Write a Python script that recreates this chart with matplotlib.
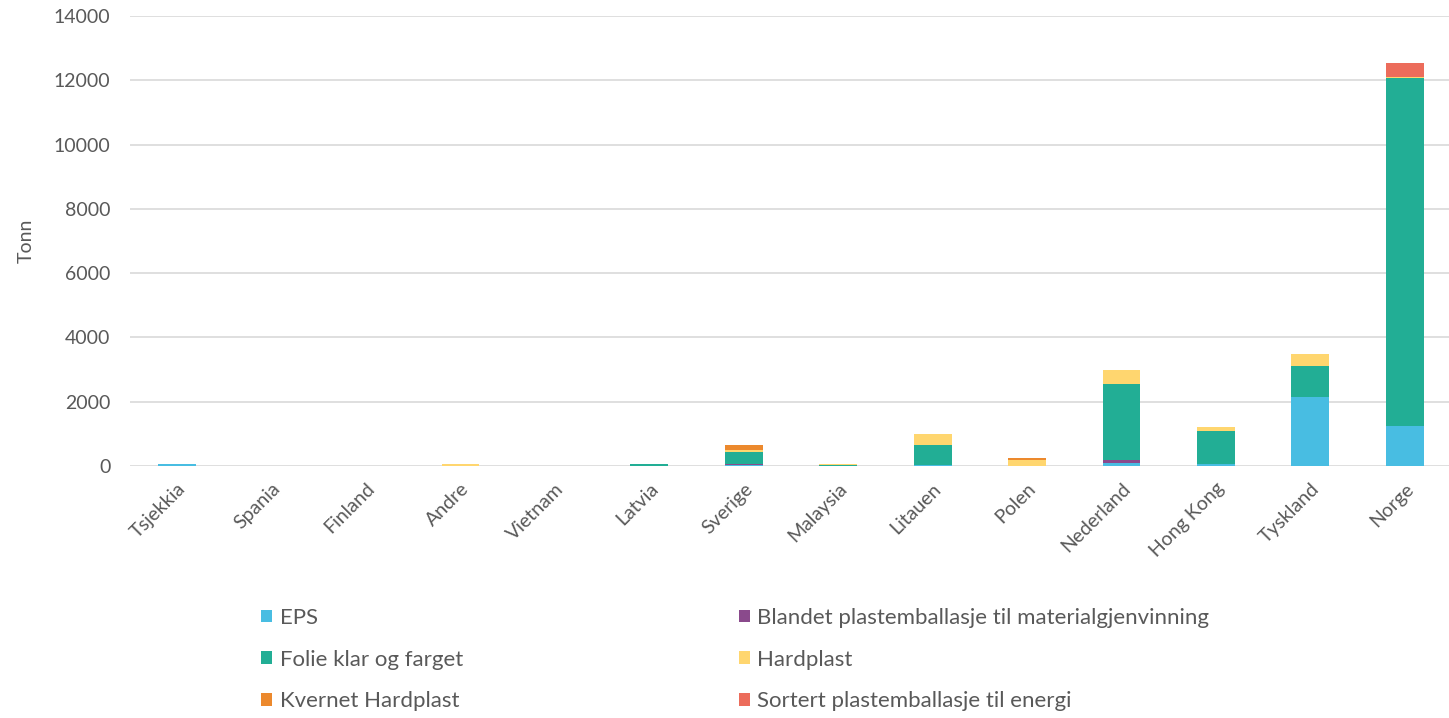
import matplotlib.pyplot as plt
import numpy as np

# ---------------------------------------------------------------------------
# Data (tonn per land og fraksjon)
# ---------------------------------------------------------------------------
countries = ["Tsjekkia", "Spania", "Finland", "Andre", "Vietnam", "Latvia",
             "Sverige", "Malaysia", "Litauen", "Polen", "Nederland",
             "Hong Kong", "Tyskland", "Norge"]

eps = [60, 0, 0, 0, 0, 0, 20, 0, 20, 0, 80, 50, 2150, 1230]
blandet = [0, 0, 0, 0, 0, 0, 50, 0, 0, 0, 110, 0, 0, 0]
folie = [0, 0, 0, 0, 0, 65, 370, 30, 630, 0, 2370, 1050, 970, 10850]
hardplast = [0, 0, 0, 60, 0, 0, 60, 30, 350, 190, 440, 110, 350, 30]
kvernet = [0, 0, 0, 0, 0, 0, 150, 0, 0, 60, 0, 0, 0, 0]
sortert = [0, 0, 0, 0, 0, 0, 0, 0, 0, 0, 0, 0, 0, 440]

series = [
    ("EPS", eps, "#48BDE2"),
    ("Blandet plastemballasje til materialgjenvinning", blandet, "#8A4A8C"),
    ("Folie klar og farget", folie, "#22AE95"),
    ("Hardplast", hardplast, "#FFD66F"),
    ("Kvernet Hardplast", kvernet, "#EC892D"),
    ("Sortert plastemballasje til energi", sortert, "#EC6C5B"),
]

text_color = "#595959"
plt.rcParams["font.family"] = ["Lato", "DejaVu Sans"]

fig = plt.figure(figsize=(14.49, 7.18), dpi=100)
ax = fig.add_axes([130 / 1449, 1 - 466 / 718, 1322 / 1449, 450 / 718])

x = np.arange(len(countries))
bottom = np.zeros(len(countries))
handles = {}
for name, vals, color in series:
    vals = np.array(vals, dtype=float)
    h = ax.bar(x, vals, bottom=bottom, width=0.4, color=color,
               linewidth=0, label=name, zorder=3)
    handles[name] = h
    bottom += vals

ax.set_xlim(-0.5, len(countries) - 0.5)
ax.set_ylim(0, 14000)
ax.set_yticks(np.arange(0, 14001, 2000))
ax.yaxis.grid(True, color="#D9D9D9", linewidth=1.2, zorder=0)
for s in ax.spines.values():
    s.set_visible(False)
ax.tick_params(axis="both", length=0, colors=text_color, labelsize=14)
ax.tick_params(axis="y", pad=14)
ax.set_xticks(x)
ax.set_xticklabels(countries, rotation=45, ha="right", rotation_mode="anchor")
ax.tick_params(axis="x", pad=10)
ax.set_ylabel("Tonn", color=text_color, fontsize=14, labelpad=14)

# legend: fylles kolonnevis, derfor omsortert
order = [0, 2, 4, 1, 3, 5]
hs = [handles[series[i][0]] for i in order]
ls = [series[i][0] for i in order]
leg = fig.legend(hs, ls, ncol=2, loc="upper left",
                 bbox_to_anchor=(252 / 1449, 1 - 599 / 718),
                 frameon=False, fontsize=16, handlelength=0.5,
                 handleheight=0.5, handletextpad=0.35, columnspacing=12.4,
                 labelspacing=0.98, borderaxespad=0)
for t in leg.get_texts():
    t.set_color(text_color)

fig.savefig("out.png", dpi=100)
